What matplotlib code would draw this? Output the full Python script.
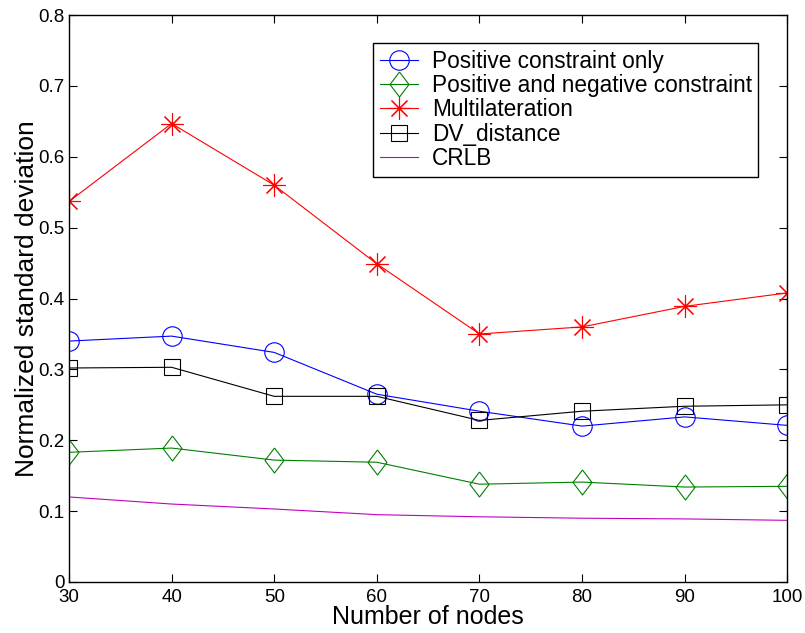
import matplotlib.pyplot as plt

plt.rcParams['font.family'] = ['Liberation Sans', 'DejaVu Sans']

# Data
nodes = [30, 40, 50, 60, 70, 80, 90, 100]
positive_only = [0.340, 0.347, 0.324, 0.265, 0.241, 0.220, 0.233, 0.221]
pos_neg = [0.183, 0.189, 0.172, 0.169, 0.138, 0.141, 0.134, 0.135]
multilateration = [0.537, 0.647, 0.560, 0.449, 0.350, 0.360, 0.389, 0.408]
dv_distance = [0.302, 0.303, 0.262, 0.262, 0.228, 0.241, 0.248, 0.250]
crlb = [0.120, 0.110, 0.103, 0.095, 0.092, 0.090, 0.089, 0.087]

diamond = [(0, 1), (0.76, 0), (0, -1), (-0.76, 0), (0, 1)]

fig = plt.figure(figsize=(8.05, 6.33), dpi=100)
ax = fig.add_axes([0.0857, 0.0806, 0.8923, 0.8955])

lw = 0.8
ax.plot(nodes, positive_only, color='blue', marker='o', markersize=14,
        markerfacecolor='none', linewidth=lw, markeredgewidth=lw,
        label='Positive constraint only')
ax.plot(nodes, pos_neg, color='green', marker=diamond, markersize=18,
        markerfacecolor='none', linewidth=lw, markeredgewidth=lw,
        label='Positive and negative constraint')
ax.plot(nodes, multilateration, color='red', marker=(8, 2, 0), markersize=16,
        linewidth=lw, markeredgewidth=lw, label='Multilateration')
ax.plot(nodes, dv_distance, color='black', marker='s', markersize=11,
        markerfacecolor='none', linewidth=lw, markeredgewidth=lw,
        label='DV_distance')
ax.plot(nodes, crlb, color='#c000c0', linewidth=lw, label='CRLB')

ax.set_xlim(30, 100)
ax.set_ylim(0, 0.8)
ax.set_xticks(nodes)
ax.set_yticks([0, 0.1, 0.2, 0.3, 0.4, 0.5, 0.6, 0.7, 0.8])
ax.set_yticklabels(['0', '0.1', '0.2', '0.3', '0.4', '0.5', '0.6', '0.7', '0.8'])
ax.tick_params(direction='in', length=6, width=0.8, top=True, right=True,
               labelsize=13.5, pad=3)
ax.tick_params(axis='x', pad=5)
ax.set_xlabel('Number of nodes', fontsize=18, labelpad=-1)
ax.set_ylabel('Normalized standard deviation', fontsize=19, labelpad=0)
for s in ax.spines.values():
    s.set_linewidth(1)

leg = ax.legend(loc='upper left', bbox_to_anchor=(0.423, 0.951), fontsize=16.3,
                fancybox=False, edgecolor='black', framealpha=1,
                borderpad=0.3, labelspacing=0.06, handlelength=1.7,
                handletextpad=0.6, borderaxespad=0)
leg.get_frame().set_linewidth(1)

fig.savefig('out.png', dpi=100)
